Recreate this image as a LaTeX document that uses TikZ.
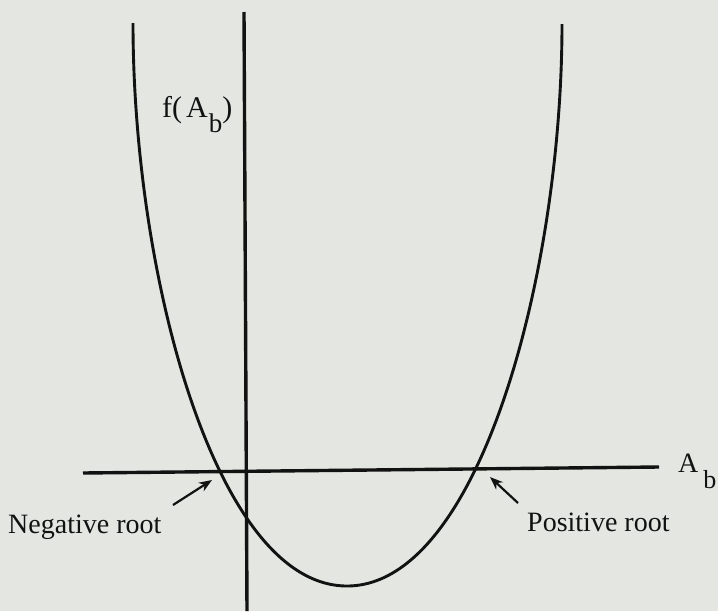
\documentclass[tikz,border=0pt]{standalone}
\usepackage{fontspec}
\setmainfont{Liberation Serif}
\usetikzlibrary{arrows.meta}
\definecolor{paper}{RGB}{228,230,226}
\definecolor{ink}{RGB}{18,18,18}
\begin{document}
\begin{tikzpicture}[x=1pt,y=-1pt,
  axis/.style={line width=3.4pt, draw=ink},
  curve/.style={line width=2.9pt, draw=ink},
  pointer/.style={line width=2.2pt, draw=ink, -{Stealth[length=13pt,width=10pt]}},
  lbl/.style={inner sep=0pt, font=\fontsize{28}{32}\selectfont, text=ink}]
\fill[paper] (0,0) rectangle (718,611);
\useasboundingbox (0,0) rectangle (718,611);
% axes
\coordinate (xl) at (83,473);
\coordinate (xr) at (659,467);
\coordinate (yt) at (244,12);
\coordinate (yb) at (247,611);
\draw[axis] (xl) -- (xr);
\draw[axis] (yt) -- (yb);
% curve
\coordinate (ltop) at (133,23);
\coordinate (vertex) at (347,586);
\coordinate (rtop) at (562,24);
\draw[curve] (ltop) .. controls (133,274) and (215,586) .. (vertex)
  .. controls (479,586) and (562,274) .. (rtop);
% labels
\node[lbl, anchor=base west, font=\fontsize{30}{34}\selectfont] (fy) at (162,117) {f(\hspace{4pt}A\hspace{1pt}{\fontsize{27}{27}\selectfont\raisebox{-15pt}{b}})};
\node[lbl, anchor=base west] (fx) at (678,472) {A\hspace{5pt}{\fontsize{26}{26}\selectfont\raisebox{-16pt}{b}}};
\node[lbl, anchor=base west] (neg) at (8,533) {Negative root};
\node[lbl, anchor=base west] (pos) at (527,531) {Positive root};
% pointers
\coordinate (negtail) at (173,505);
\coordinate (negtip) at (212,480);
\coordinate (postail) at (518,503);
\coordinate (postip) at (490,477);
\draw[pointer] (negtail) -- (negtip);
\draw[pointer] (postail) -- (postip);
\end{tikzpicture}
\end{document}
